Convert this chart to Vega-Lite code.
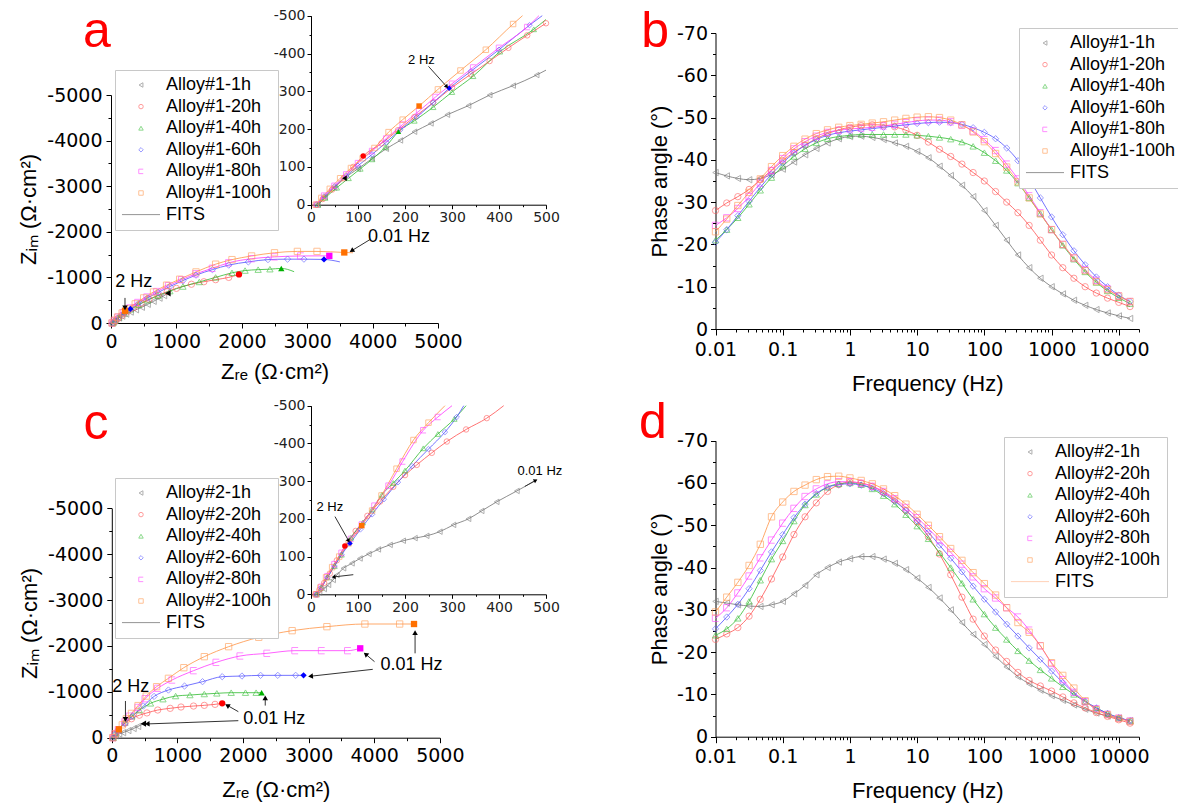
{
"$schema":"https://vega.github.io/schema/vega-lite/v6.json",
"width":1178,"height":809,"autosize":{"type":"none"},"padding":0,"background":"white",
"config":{"view":{"stroke":null},
"axis":{"grid":false,"domainColor":"black","tickColor":"black","labelColor":"black","titleColor":"black","labelFont":"DejaVu Sans","labelFontSize":19,"titleFont":"Liberation Sans","titleFontSize":22,"titleFontWeight":"normal","tickSize":5,"labelPadding":4,"labelFlush":false,"labelOverlap":false,"domainWidth":1,"tickWidth":1},
"text":{"font":"Liberation Sans"}},
"datasets":{
"na":[
{"s":"1h","x":20,"y":0},{"s":"1h","x":40,"y":-25},{"s":"1h","x":75,"y":-65},{"s":"1h","x":120,"y":-110},{"s":"1h","x":170,"y":-150},{"s":"1h","x":230,"y":-195},{"s":"1h","x":300,"y":-240},{"s":"1h","x":380,"y":-290},{"s":"1h","x":470,"y":-345},{"s":"1h","x":560,"y":-410},{"s":"1h","x":650,"y":-475},{"s":"1h","x":740,"y":-545},{"s":"1h","x":810,"y":-600},{"s":"1h","x":870,"y":-650,"k":1},
{"s":"20h","x":30,"y":0},{"s":"20h","x":60,"y":-40},{"s":"20h","x":110,"y":-100},{"s":"20h","x":170,"y":-170},{"s":"20h","x":250,"y":-250},{"s":"20h","x":350,"y":-340},{"s":"20h","x":460,"y":-430},{"s":"20h","x":580,"y":-520},{"s":"20h","x":720,"y":-610},{"s":"20h","x":860,"y":-690},{"s":"20h","x":1000,"y":-760},{"s":"20h","x":1230,"y":-850},{"s":"20h","x":1420,"y":-905},{"s":"20h","x":1600,"y":-950},{"s":"20h","x":1800,"y":-1000},{"s":"20h","x":1957,"y":-1066,"k":1},
{"s":"40h","x":30,"y":0},{"s":"40h","x":60,"y":-45},{"s":"40h","x":120,"y":-120},{"s":"40h","x":200,"y":-210},{"s":"40h","x":300,"y":-300},{"s":"40h","x":420,"y":-400},{"s":"40h","x":560,"y":-500},{"s":"40h","x":720,"y":-600},{"s":"40h","x":900,"y":-700},{"s":"40h","x":1100,"y":-800},{"s":"40h","x":1350,"y":-900},{"s":"40h","x":1600,"y":-1000},{"s":"40h","x":1850,"y":-1100},{"s":"40h","x":2050,"y":-1150},{"s":"40h","x":2250,"y":-1170},{"s":"40h","x":2430,"y":-1180},{"s":"40h","x":2604,"y":-1197,"k":1},{"s":"40h","x":2800,"y":-1125,"n":1},
{"s":"60h","x":25,"y":0},{"s":"60h","x":60,"y":-55},{"s":"60h","x":120,"y":-130},{"s":"60h","x":200,"y":-220},{"s":"60h","x":295,"y":-308,"k":1},{"s":"60h","x":420,"y":-430},{"s":"60h","x":560,"y":-550},{"s":"60h","x":720,"y":-670},{"s":"60h","x":900,"y":-800},{"s":"60h","x":1100,"y":-930},{"s":"60h","x":1300,"y":-1050},{"s":"60h","x":1550,"y":-1170},{"s":"60h","x":1800,"y":-1270},{"s":"60h","x":2100,"y":-1340},{"s":"60h","x":2400,"y":-1390},{"s":"60h","x":2700,"y":-1400},{"s":"60h","x":2950,"y":-1400},{"s":"60h","x":3257,"y":-1394,"k":1},{"s":"60h","x":3500,"y":-1340,"n":1},
{"s":"80h","x":20,"y":0},{"s":"80h","x":55,"y":-55},{"s":"80h","x":110,"y":-130},{"s":"80h","x":190,"y":-225},{"s":"80h","x":290,"y":-330},{"s":"80h","x":410,"y":-450},{"s":"80h","x":550,"y":-570},{"s":"80h","x":700,"y":-690},{"s":"80h","x":880,"y":-820},{"s":"80h","x":1080,"y":-950},{"s":"80h","x":1300,"y":-1080},{"s":"80h","x":1550,"y":-1200},{"s":"80h","x":1800,"y":-1320},{"s":"80h","x":2150,"y":-1410},{"s":"80h","x":2500,"y":-1450},{"s":"80h","x":2900,"y":-1470},{"s":"80h","x":3338,"y":-1473,"k":1},
{"s":"100h","x":15,"y":0},{"s":"100h","x":50,"y":-60},{"s":"100h","x":100,"y":-130},{"s":"100h","x":170,"y":-220},{"s":"100h","x":214,"y":-269,"k":1},{"s":"100h","x":260,"y":-310},{"s":"100h","x":370,"y":-420},{"s":"100h","x":500,"y":-550},{"s":"100h","x":650,"y":-680},{"s":"100h","x":850,"y":-830},{"s":"100h","x":1050,"y":-960},{"s":"100h","x":1300,"y":-1120},{"s":"100h","x":1600,"y":-1290},{"s":"100h","x":1850,"y":-1390},{"s":"100h","x":2150,"y":-1470},{"s":"100h","x":2500,"y":-1540},{"s":"100h","x":2850,"y":-1570},{"s":"100h","x":3150,"y":-1570},{"s":"100h","x":3567,"y":-1547,"k":1},{"s":"100h","x":3700,"y":-1540,"n":1}
],
"nai":[
{"s":"1h","x":15,"y":0},{"s":"1h","x":30,"y":-20},{"s":"1h","x":50,"y":-45},{"s":"1h","x":71,"y":-70,"k":1},{"s":"1h","x":100,"y":-95},{"s":"1h","x":130,"y":-122},{"s":"1h","x":160,"y":-148},{"s":"1h","x":190,"y":-170},{"s":"1h","x":220,"y":-193},{"s":"1h","x":255,"y":-215},{"s":"1h","x":290,"y":-238},{"s":"1h","x":335,"y":-262},{"s":"1h","x":380,"y":-290},{"s":"1h","x":430,"y":-315},{"s":"1h","x":480,"y":-343},{"s":"1h","x":500,"y":-356,"n":1},
{"s":"20h","x":12,"y":0},{"s":"20h","x":25,"y":-15},{"s":"20h","x":45,"y":-40},{"s":"20h","x":70,"y":-70},{"s":"20h","x":90,"y":-100},{"s":"20h","x":111,"y":-129,"k":1},{"s":"20h","x":150,"y":-162},{"s":"20h","x":185,"y":-197},{"s":"20h","x":220,"y":-232},{"s":"20h","x":260,"y":-270},{"s":"20h","x":300,"y":-310},{"s":"20h","x":340,"y":-345},{"s":"20h","x":380,"y":-380},{"s":"20h","x":420,"y":-415},{"s":"20h","x":460,"y":-448},{"s":"20h","x":500,"y":-480},
{"s":"40h","x":15,"y":0},{"s":"40h","x":30,"y":-18},{"s":"40h","x":55,"y":-45},{"s":"40h","x":80,"y":-70},{"s":"40h","x":105,"y":-95},{"s":"40h","x":130,"y":-120},{"s":"40h","x":158,"y":-152},{"s":"40h","x":186,"y":-193,"k":1},{"s":"40h","x":220,"y":-222},{"s":"40h","x":260,"y":-258},{"s":"40h","x":300,"y":-298},{"s":"40h","x":345,"y":-340},{"s":"40h","x":402,"y":-405},{"s":"40h","x":474,"y":-464},{"s":"40h","x":500,"y":-490,"n":1},
{"s":"60h","x":12,"y":0},{"s":"60h","x":28,"y":-22},{"s":"60h","x":50,"y":-48},{"s":"60h","x":75,"y":-76},{"s":"60h","x":100,"y":-103},{"s":"60h","x":130,"y":-133},{"s":"60h","x":160,"y":-165},{"s":"60h","x":190,"y":-198},{"s":"60h","x":225,"y":-232},{"s":"60h","x":260,"y":-270},{"s":"60h","x":294,"y":-308,"k":1},{"s":"60h","x":340,"y":-353},{"s":"60h","x":400,"y":-410},{"s":"60h","x":465,"y":-475},{"s":"60h","x":492,"y":-500,"n":1},
{"s":"80h","x":12,"y":0},{"s":"80h","x":28,"y":-24},{"s":"80h","x":50,"y":-50},{"s":"80h","x":75,"y":-80},{"s":"80h","x":100,"y":-110},{"s":"80h","x":130,"y":-142},{"s":"80h","x":160,"y":-175},{"s":"80h","x":195,"y":-212},{"s":"80h","x":230,"y":-248},{"s":"80h","x":265,"y":-285},{"s":"80h","x":300,"y":-320},{"s":"80h","x":345,"y":-363},{"s":"80h","x":400,"y":-415},{"s":"80h","x":460,"y":-470},{"s":"80h","x":485,"y":-500,"n":1},
{"s":"100h","x":10,"y":0},{"s":"100h","x":22,"y":-18},{"s":"100h","x":40,"y":-42},{"s":"100h","x":62,"y":-70},{"s":"100h","x":85,"y":-97},{"s":"100h","x":110,"y":-123},{"s":"100h","x":135,"y":-150},{"s":"100h","x":165,"y":-192},{"s":"100h","x":195,"y":-225},{"s":"100h","x":230,"y":-261,"k":1},{"s":"100h","x":270,"y":-305},{"s":"100h","x":318,"y":-355},{"s":"100h","x":372,"y":-410},{"s":"100h","x":430,"y":-478},{"s":"100h","x":450,"y":-500,"n":1}
],
"nc":[
{"s":"1h","x":20,"y":0},{"s":"1h","x":60,"y":-40},{"s":"1h","x":110,"y":-80},{"s":"1h","x":170,"y":-110},{"s":"1h","x":250,"y":-155},{"s":"1h","x":330,"y":-200},{"s":"1h","x":400,"y":-245},{"s":"1h","x":481,"y":-305,"k":1},
{"s":"20h","x":20,"y":0},{"s":"20h","x":50,"y":-80},{"s":"20h","x":100,"y":-170},{"s":"20h","x":200,"y":-316},{"s":"20h","x":300,"y":-413},{"s":"20h","x":420,"y":-490},{"s":"20h","x":535,"y":-540},{"s":"20h","x":700,"y":-603},{"s":"20h","x":890,"y":-640},{"s":"20h","x":1055,"y":-669},{"s":"20h","x":1246,"y":-690},{"s":"20h","x":1410,"y":-705},{"s":"20h","x":1574,"y":-727},{"s":"20h","x":1683,"y":-749,"k":1},
{"s":"40h","x":20,"y":0},{"s":"40h","x":50,"y":-80},{"s":"40h","x":100,"y":-170},{"s":"40h","x":200,"y":-330},{"s":"40h","x":305,"y":-465},{"s":"40h","x":420,"y":-600},{"s":"40h","x":590,"y":-749},{"s":"40h","x":780,"y":-840},{"s":"40h","x":973,"y":-908},{"s":"40h","x":1191,"y":-930},{"s":"40h","x":1410,"y":-952},{"s":"40h","x":1601,"y":-967},{"s":"40h","x":1820,"y":-981},{"s":"40h","x":2038,"y":-981},{"s":"40h","x":2200,"y":-981},{"s":"40h","x":2284,"y":-981,"k":1},
{"s":"60h","x":20,"y":0},{"s":"60h","x":50,"y":-80},{"s":"60h","x":100,"y":-165},{"s":"60h","x":200,"y":-315},{"s":"60h","x":320,"y":-475},{"s":"60h","x":481,"y":-690},{"s":"60h","x":645,"y":-900},{"s":"60h","x":863,"y":-1039},{"s":"60h","x":1109,"y":-1126},{"s":"60h","x":1383,"y":-1221},{"s":"60h","x":1683,"y":-1330},{"s":"60h","x":1984,"y":-1344},{"s":"60h","x":2268,"y":-1359},{"s":"60h","x":2530,"y":-1359},{"s":"60h","x":2803,"y":-1359},{"s":"60h","x":2923,"y":-1359,"k":1},
{"s":"80h","x":20,"y":0},{"s":"80h","x":50,"y":-85},{"s":"80h","x":100,"y":-175},{"s":"80h","x":200,"y":-345},{"s":"80h","x":270,"y":-470},{"s":"80h","x":400,"y":-660},{"s":"80h","x":508,"y":-850},{"s":"80h","x":700,"y":-1076},{"s":"80h","x":918,"y":-1257},{"s":"80h","x":1246,"y":-1461},{"s":"80h","x":1590,"y":-1642},{"s":"80h","x":1956,"y":-1781},{"s":"80h","x":2366,"y":-1839},{"s":"80h","x":2792,"y":-1897},{"s":"80h","x":3197,"y":-1897},{"s":"80h","x":3596,"y":-1897},{"s":"80h","x":3787,"y":-1948,"k":1},
{"s":"100h","x":15,"y":0},{"s":"100h","x":50,"y":-85},{"s":"100h","x":108,"y":-183,"k":1},{"s":"100h","x":160,"y":-280},{"s":"100h","x":220,"y":-410},{"s":"100h","x":300,"y":-530},{"s":"100h","x":400,"y":-700},{"s":"100h","x":525,"y":-908},{"s":"100h","x":683,"y":-1112},{"s":"100h","x":863,"y":-1294},{"s":"100h","x":1098,"y":-1526},{"s":"100h","x":1410,"y":-1766},{"s":"100h","x":1781,"y":-1984},{"s":"100h","x":2240,"y":-2188},{"s":"100h","x":2749,"y":-2333},{"s":"100h","x":3279,"y":-2420},{"s":"100h","x":3858,"y":-2478},{"s":"100h","x":4388,"y":-2478},{"s":"100h","x":4607,"y":-2478,"k":1}
],
"nci":[
{"s":"1h","x":9,"y":0},{"s":"1h","x":18,"y":-5},{"s":"1h","x":28,"y":-14},{"s":"1h","x":37,"y":-25},{"s":"1h","x":47,"y":-38},{"s":"1h","x":55,"y":-51},{"s":"1h","x":69,"y":-69},{"s":"1h","x":87,"y":-82},{"s":"1h","x":104,"y":-95},{"s":"1h","x":123,"y":-107},{"s":"1h","x":143,"y":-119},{"s":"1h","x":168,"y":-131},{"s":"1h","x":196,"y":-142},{"s":"1h","x":221,"y":-149},{"s":"1h","x":246,"y":-155},{"s":"1h","x":274,"y":-166},{"s":"1h","x":303,"y":-184},{"s":"1h","x":335,"y":-200},{"s":"1h","x":363,"y":-221},{"s":"1h","x":395,"y":-245},{"s":"1h","x":438,"y":-274},{"s":"1h","x":480,"y":-303,"n":1},
{"s":"20h","x":10,"y":0},{"s":"20h","x":18,"y":-12},{"s":"20h","x":28,"y":-30},{"s":"20h","x":40,"y":-55},{"s":"20h","x":55,"y":-90},{"s":"20h","x":72,"y":-128,"k":1},{"s":"20h","x":95,"y":-168},{"s":"20h","x":120,"y":-208},{"s":"20h","x":147,"y":-246},{"s":"20h","x":175,"y":-285},{"s":"20h","x":200,"y":-316},{"s":"20h","x":225,"y":-343},{"s":"20h","x":257,"y":-375},{"s":"20h","x":289,"y":-405},{"s":"20h","x":330,"y":-437},{"s":"20h","x":374,"y":-467},{"s":"20h","x":410,"y":-500,"n":1},
{"s":"40h","x":12,"y":0},{"s":"40h","x":22,"y":-18},{"s":"40h","x":35,"y":-45},{"s":"40h","x":50,"y":-75},{"s":"40h","x":65,"y":-105},{"s":"40h","x":85,"y":-150},{"s":"40h","x":110,"y":-190},{"s":"40h","x":130,"y":-225},{"s":"40h","x":151,"y":-264},{"s":"40h","x":175,"y":-295},{"s":"40h","x":200,"y":-328},{"s":"40h","x":239,"y":-387},{"s":"40h","x":270,"y":-425},{"s":"40h","x":305,"y":-465},{"s":"40h","x":330,"y":-500,"n":1},
{"s":"60h","x":12,"y":0},{"s":"60h","x":22,"y":-18},{"s":"60h","x":35,"y":-45},{"s":"60h","x":50,"y":-75},{"s":"60h","x":65,"y":-105},{"s":"60h","x":83,"y":-135,"k":1},{"s":"60h","x":105,"y":-172},{"s":"60h","x":130,"y":-212},{"s":"60h","x":155,"y":-252},{"s":"60h","x":185,"y":-297},{"s":"60h","x":215,"y":-340},{"s":"60h","x":250,"y":-385},{"s":"60h","x":285,"y":-430},{"s":"60h","x":310,"y":-470},{"s":"60h","x":325,"y":-500,"n":1},
{"s":"80h","x":12,"y":0},{"s":"80h","x":22,"y":-20},{"s":"80h","x":35,"y":-48},{"s":"80h","x":50,"y":-80},{"s":"80h","x":65,"y":-110},{"s":"80h","x":85,"y":-147},{"s":"80h","x":108,"y":-185},{"s":"80h","x":135,"y":-235},{"s":"80h","x":165,"y":-288},{"s":"80h","x":195,"y":-352},{"s":"80h","x":239,"y":-435},{"s":"80h","x":270,"y":-470},{"s":"80h","x":300,"y":-500,"n":1},
{"s":"100h","x":10,"y":0},{"s":"100h","x":20,"y":-18},{"s":"100h","x":32,"y":-45},{"s":"100h","x":45,"y":-72},{"s":"100h","x":60,"y":-100},{"s":"100h","x":80,"y":-135},{"s":"100h","x":108,"y":-182,"k":1},{"s":"100h","x":130,"y":-222},{"s":"100h","x":150,"y":-262},{"s":"100h","x":182,"y":-333},{"s":"100h","x":218,"y":-409},{"s":"100h","x":250,"y":-455},{"s":"100h","x":285,"y":-500,"n":1}
],
"pb":[
{"f":0.01,"1h":-37,"20h":-28,"40h":-21,"60h":-20.5,"80h":-24.5,"100h":-23},
{"f":0.0147,"1h":-36.2,"20h":-29.8,"40h":-23.5,"60h":-23.5,"80h":-26.3,"100h":-26},
{"f":0.0215,"1h":-35.6,"20h":-31.3,"40h":-26.3,"60h":-26.8,"80h":-28.5,"100h":-29.2},
{"f":0.0316,"1h":-35.3,"20h":-33,"40h":-29.5,"60h":-30.2,"80h":-31.3,"100h":-32.3},
{"f":0.0464,"1h":-35.6,"20h":-35.3,"40h":-32.8,"60h":-33.5,"80h":-34.5,"100h":-35.5},
{"f":0.0681,"1h":-36.5,"20h":-37.5,"40h":-35.8,"60h":-36.6,"80h":-37.5,"100h":-38.4},
{"f":0.1,"1h":-37.8,"20h":-39.8,"40h":-38.5,"60h":-39.3,"80h":-40.3,"100h":-41},
{"f":0.147,"1h":-39.5,"20h":-41.8,"40h":-40.8,"60h":-41.6,"80h":-42.6,"100h":-43.2},
{"f":0.215,"1h":-41.2,"20h":-43.5,"40h":-42.6,"60h":-43.4,"80h":-44.3,"100h":-44.9},
{"f":0.316,"1h":-42.7,"20h":-45,"40h":-44,"60h":-44.8,"80h":-45.6,"100h":-46.2},
{"f":0.464,"1h":-44,"20h":-46.2,"40h":-45,"60h":-45.8,"80h":-46.5,"100h":-47.1},
{"f":0.681,"1h":-45,"20h":-47.1,"40h":-45.5,"60h":-46.4,"80h":-47,"100h":-47.7},
{"f":1,"1h":-45.5,"20h":-47.7,"40h":-45.8,"60h":-46.8,"80h":-47.3,"100h":-48.1},
{"f":1.47,"1h":-45.6,"20h":-48.1,"40h":-46,"60h":-47.1,"80h":-47.5,"100h":-48.4},
{"f":2.15,"1h":-45.3,"20h":-48.3,"40h":-46,"60h":-47.4,"80h":-47.7,"100h":-48.7},
{"f":3.16,"1h":-44.8,"20h":-48.2,"40h":-46,"60h":-47.7,"80h":-48,"100h":-49},
{"f":4.64,"1h":-44,"20h":-47.8,"40h":-46,"60h":-48,"80h":-48.4,"100h":-49.4},
{"f":6.81,"1h":-43.2,"20h":-47,"40h":-46,"60h":-48.3,"80h":-48.8,"100h":-49.8},
{"f":10,"1h":-42,"20h":-45.8,"40h":-45.8,"60h":-48.6,"80h":-49.2,"100h":-50.1},
{"f":14.7,"1h":-40.5,"20h":-44.2,"40h":-45.6,"60h":-48.8,"80h":-49.4,"100h":-50.2},
{"f":21.5,"1h":-38.5,"20h":-42.5,"40h":-45.3,"60h":-48.9,"80h":-49.4,"100h":-50},
{"f":31.6,"1h":-36.3,"20h":-40.8,"40h":-44.9,"60h":-48.8,"80h":-49,"100h":-49.4},
{"f":46.4,"1h":-34,"20h":-39,"40h":-44.2,"60h":-48.4,"80h":-48.2,"100h":-48.3},
{"f":68.1,"1h":-31.3,"20h":-37,"40h":-43.2,"60h":-47.6,"80h":-46.8,"100h":-46.6},
{"f":100,"1h":-28,"20h":-35,"40h":-41.7,"60h":-46.5,"80h":-44.8,"100h":-44.3},
{"f":147,"1h":-24.5,"20h":-32.5,"40h":-39.8,"60h":-45,"80h":-42.2,"100h":-41.5},
{"f":215,"1h":-21,"20h":-30,"40h":-37.5,"60h":-42.8,"80h":-39,"100h":-38.3},
{"f":316,"1h":-17.5,"20h":-27.5,"40h":-34.5,"60h":-39.8,"80h":-35.5,"100h":-34.8},
{"f":464,"1h":-14.5,"20h":-24.5,"40h":-31,"60h":-35.5,"80h":-31.5,"100h":-31},
{"f":681,"1h":-12,"20h":-21,"40h":-27.3,"60h":-31,"80h":-27.5,"100h":-27.2},
{"f":1000,"1h":-10,"20h":-17.5,"40h":-23.5,"60h":-26.5,"80h":-23.5,"100h":-23.5},
{"f":1470,"1h":-8.3,"20h":-14.5,"40h":-19.8,"60h":-22.3,"80h":-20,"100h":-20},
{"f":2150,"1h":-6.8,"20h":-12,"40h":-16.5,"60h":-18.5,"80h":-16.8,"100h":-16.8},
{"f":3160,"1h":-5.6,"20h":-10,"40h":-13.5,"60h":-15.2,"80h":-14,"100h":-13.8},
{"f":4640,"1h":-4.6,"20h":-8.5,"40h":-11,"60h":-12.3,"80h":-11.5,"100h":-11.2},
{"f":6810,"1h":-3.8,"20h":-7.3,"40h":-9,"60h":-10,"80h":-9.5,"100h":-9.3},
{"f":10000,"1h":-3.1,"20h":-6.3,"40h":-7.4,"60h":-8,"80h":-7.8,"100h":-7.8},
{"f":14700,"1h":-2.5,"20h":-5.3,"40h":-6,"60h":-6.5,"80h":-6.5,"100h":-6.5}
],
"pd":[
{"f":0.01,"1h":-32,"20h":-23,"40h":-24,"60h":-25.5,"80h":-28,"100h":-29.5},
{"f":0.0147,"1h":-31.6,"20h":-24.3,"40h":-25.5,"60h":-28.3,"80h":-30.5,"100h":-33},
{"f":0.0215,"1h":-31.2,"20h":-25.8,"40h":-28,"60h":-31.3,"80h":-34,"100h":-36.5},
{"f":0.0316,"1h":-30.9,"20h":-28.5,"40h":-32,"60h":-35,"80h":-38,"100h":-40.5},
{"f":0.0464,"1h":-30.8,"20h":-32.5,"40h":-37,"60h":-39.3,"80h":-42.3,"100h":-45.5},
{"f":0.0681,"1h":-31.2,"20h":-37.3,"40h":-42,"60h":-43.7,"80h":-46.5,"100h":-52},
{"f":0.1,"1h":-32,"20h":-42.5,"40h":-46.3,"60h":-47.8,"80h":-50.5,"100h":-55.5},
{"f":0.147,"1h":-33.8,"20h":-47.8,"40h":-51,"60h":-51.8,"80h":-54,"100h":-58},
{"f":0.215,"1h":-35.8,"20h":-52,"40h":-54.8,"60h":-55,"80h":-56.8,"100h":-59.5},
{"f":0.316,"1h":-38.3,"20h":-55.3,"40h":-57.3,"60h":-57.5,"80h":-58.6,"100h":-60.8},
{"f":0.464,"1h":-40,"20h":-58,"40h":-59,"60h":-59,"80h":-59.8,"100h":-61.5},
{"f":0.681,"1h":-41.3,"20h":-59.6,"40h":-59.8,"60h":-59.6,"80h":-60.3,"100h":-61.6},
{"f":1,"1h":-42.1,"20h":-60.2,"40h":-60,"60h":-59.8,"80h":-60.3,"100h":-61.2},
{"f":1.47,"1h":-42.6,"20h":-60,"40h":-59.6,"60h":-59.5,"80h":-59.9,"100h":-60.6},
{"f":2.15,"1h":-42.6,"20h":-59.2,"40h":-58.6,"60h":-58.8,"80h":-59.2,"100h":-59.8},
{"f":3.16,"1h":-42,"20h":-57.8,"40h":-57,"60h":-57.5,"80h":-58,"100h":-58.6},
{"f":4.64,"1h":-41,"20h":-56,"40h":-55,"60h":-55.7,"80h":-56.3,"100h":-57},
{"f":6.81,"1h":-39.5,"20h":-53.5,"40h":-52.5,"60h":-53.5,"80h":-54.2,"100h":-55},
{"f":10,"1h":-37.5,"20h":-50.8,"40h":-49.8,"60h":-51,"80h":-51.8,"100h":-52.6},
{"f":14.7,"1h":-35.3,"20h":-47.3,"40h":-46.8,"60h":-48.3,"80h":-49.2,"100h":-50},
{"f":21.5,"1h":-32.8,"20h":-43.2,"40h":-43.5,"60h":-45.3,"80h":-46.5,"100h":-47.3},
{"f":31.6,"1h":-30,"20h":-38.3,"40h":-40,"60h":-42.2,"80h":-43.6,"100h":-44.5},
{"f":46.4,"1h":-27,"20h":-33,"40h":-36.3,"60h":-39,"80h":-40.8,"100h":-41.7},
{"f":68.1,"1h":-24.2,"20h":-27.8,"40h":-32.5,"60h":-35.6,"80h":-37.8,"100h":-38.8},
{"f":100,"1h":-21.8,"20h":-23.8,"40h":-29,"60h":-32.5,"80h":-35,"100h":-36.2},
{"f":147,"1h":-19,"20h":-20.5,"40h":-25.8,"60h":-29.5,"80h":-32.8,"100h":-33.5},
{"f":215,"1h":-16.5,"20h":-17.8,"40h":-23,"60h":-26.6,"80h":-30.5,"100h":-30.5},
{"f":316,"1h":-14.2,"20h":-15.2,"40h":-20.3,"60h":-23.8,"80h":-28.3,"100h":-27},
{"f":464,"1h":-12.5,"20h":-13.3,"40h":-18,"60h":-21,"80h":-25.2,"100h":-24.7},
{"f":681,"1h":-11,"20h":-12,"40h":-15.8,"60h":-18.3,"80h":-21.5,"100h":-21.5},
{"f":1000,"1h":-9.7,"20h":-10.8,"40h":-13.8,"60h":-15.5,"80h":-17.3,"100h":-17.5},
{"f":1470,"1h":-8.6,"20h":-9.4,"40h":-11.8,"60h":-12.8,"80h":-13.5,"100h":-14.5},
{"f":2150,"1h":-7.5,"20h":-8,"40h":-10,"60h":-10.4,"80h":-10.5,"100h":-11.5},
{"f":3160,"1h":-6.5,"20h":-6.8,"40h":-8.3,"60h":-8.4,"80h":-8.3,"100h":-8.5},
{"f":4640,"1h":-5.6,"20h":-5.7,"40h":-6.8,"60h":-6.8,"80h":-6.6,"100h":-6.4},
{"f":6810,"1h":-4.9,"20h":-4.8,"40h":-5.5,"60h":-5.5,"80h":-5.3,"100h":-5.2},
{"f":10000,"1h":-4.4,"20h":-4,"40h":-4.5,"60h":-4.5,"80h":-4.4,"100h":-4.3},
{"f":14700,"1h":-3.8,"20h":-3.2,"40h":-3.7,"60h":-3.8,"80h":-3.7,"100h":-3.6}
],
"arA":[{"id":1,"x":214,"y":-330,"x2":214,"y2":-550},{"id":2,"x":3680,"y":-1585,"x2":3960,"y2":-1830}],
"arAi":[{"id":1,"x":289,"y":-312,"x2":250,"y2":-366}],
"arC":[{"id":1,"x":208,"y":-400,"x2":208,"y2":-800},{"id":2,"x":1760,"y":-705,"x2":1929,"y2":-567},{"id":3,"x":540,"y":-300,"x2":1929,"y2":-371},{"id":4,"x":2339,"y":-870,"x2":2339,"y2":-700},{"id":5,"x":3030,"y":-1340,"x2":3978,"y2":-1490},{"id":6,"x":3870,"y":-1820,"x2":4005,"y2":-1657},{"id":7,"x":4623,"y":-2290,"x2":4623,"y2":-1839}],
"arCi":[{"id":1,"x":80,"y":-142,"x2":51,"y2":-206},{"id":2,"x":478,"y":-302,"x2":455,"y2":-286},{"id":3,"x":48,"y":-46,"x2":90,"y2":-52}],
"tA":[{"x":347,"y":-906,"t":"2 Hz"},{"x":4404,"y":-1893,"t":"0.01 Hz"}],
"tAi":[{"x":235,"y":-384,"t":"2 Hz"}],
"tC":[{"x":290,"y":-1097,"t":"2 Hz"},{"x":2475,"y":-400,"t":"0.01 Hz"},{"x":4568,"y":-1584,"t":"0.01 Hz"}],
"tCi":[{"x":40,"y":-231,"t":"2 Hz"},{"x":487,"y":-327,"t":"0.01 Hz"}]
},
"layer":[
{"data":{"name":"na"},
"encoding":{"x":{"field":"x","type":"quantitative","scale":{"domain":[0,5000],"range":[111,438],"nice":false,"zero":false},"axis":{"orient":"bottom","offset":-486,"values":[0,1000,2000,3000,4000,5000],"labelExpr":"''+datum.value","title":"Zᵣₑ (Ω·cm²)","titlePadding":10,"labelPadding":4}},
"y":{"field":"y","type":"quantitative","scale":{"domain":[-5000,0],"range":[95,323],"nice":false,"zero":false},"axis":{"orient":"left","offset":-111,"values":[0,-1000,-2000,-3000,-4000,-5000],"labelExpr":"''+datum.value","title":"Zᵢₘ (Ω·cm²)","titlePadding":6,"labelPadding":4}}},
"layer":[
{"mark":{"type":"line","interpolate":"monotone","strokeWidth":1,"opacity":0.85},"encoding":{"stroke":{"field":"s","type":"nominal","scale":{"domain":["1h","20h","40h","60h","80h","100h"],"range":["#7a7a7a","#ff5a5a","#3cc03c","#5a5aff","#ff45ff","#ff9a50"]},"legend":null}}},
{"transform":[{"filter":"!datum.k && !datum.n"}],"mark":{"type":"point","filled":false,"size":40,"opacity":0.6,"strokeWidth":1},"encoding":{
"color":{"field":"s","type":"nominal","scale":{"domain":["1h","20h","40h","60h","80h","100h","FITS"],"range":["#7a7a7a","#ff5a5a","#3cc03c","#5a5aff","#ff45ff","#ff9a50","#505050"]},"legend":{"orient":"none","legendX":115,"legendY":70,"title":null,"columns":1,"padding":6,"symbolSize":20,"symbolOffset":11,"labelOffset":16,"labelFont":"Liberation Sans","labelFontSize":18,"labelColor":"black","strokeColor":"#c8c8c8","fillColor":"white","rowPadding":3.6,"symbolStrokeWidth":1,"labelExpr":"datum.label == 'FITS' ? 'FITS' : 'Alloy#1-' + datum.label"}},
"shape":{"field":"s","type":"nominal","scale":{"domain":["1h","20h","40h","60h","80h","100h","FITS"],"range":["triangle-left","circle","triangle-up","diamond","M 1 -1 L -1 -1 L -1 1 L 1 1","square","M -8.5 0 L 8.5 0"]},"legend":{"orient":"none","legendX":115,"legendY":70,"title":null,"columns":1,"padding":6,"symbolSize":20,"symbolOffset":11,"labelOffset":16,"labelFont":"Liberation Sans","labelFontSize":18,"labelColor":"black","strokeColor":"#c8c8c8","fillColor":"white","rowPadding":3.6,"symbolStrokeWidth":1,"labelExpr":"datum.label == 'FITS' ? 'FITS' : 'Alloy#1-' + datum.label"}}}},
{"transform":[{"filter":"datum.k"}],"mark":{"type":"point","filled":true,"size":40,"opacity":1},"encoding":{"fill":{"field":"s","type":"nominal","scale":{"domain":["1h","20h","40h","60h","80h","100h"],"range":["#000000","#ff0000","#00b000","#0000ff","#ff00ff","#ff7000"]},"legend":null},"shape":{"field":"s","type":"nominal","scale":{"domain":["1h","20h","40h","60h","80h","100h","FITS"],"range":["triangle-left","circle","triangle-up","diamond","M 1 -1 L -1 -1 L -1 1 L 1 1","square","M -8.5 0 L 8.5 0"]}}}},
{"data":{"name":"arA"},"mark":{"type":"rule","color":"#333333","strokeWidth":1},"encoding":{"x2":{"field":"x2"},"y2":{"field":"y2"}}},
{"data":{"name":"arA"},"transform":[{"filter":"datum.id==1"}],"mark":{"type":"point","shape":"triangle-right","filled":true,"color":"black","size":30,"angle":90,"opacity":1},"encoding":{}},
{"data":{"name":"arA"},"transform":[{"filter":"datum.id==2"}],"mark":{"type":"point","shape":"triangle-right","filled":true,"color":"black","size":30,"angle":148,"opacity":1},"encoding":{}},
{"data":{"name":"tA"},"mark":{"type":"text","fontSize":18,"align":"center","baseline":"middle","color":"black"},"encoding":{"text":{"field":"t"}}},
{"data":{"values":[{"x":-214,"y":-6053,"t":"a"}]},"mark":{"type":"text","fontSize":50,"align":"center","baseline":"alphabetic","color":"#ff0000"},"encoding":{"text":{"field":"t"}}}
]},
{"data":{"values":[{"x":0,"y":0}]},"mark":{"type":"point","opacity":0},
"encoding":{"x":{"field":"x","type":"quantitative","scale":{"domain":[0,5000],"range":[111,438],"nice":false,"zero":false},"axis":{"orient":"bottom","offset":-486,"values":[500,1500,2500,3500,4500],"labels":false,"domain":false,"tickSize":3,"title":null}},
"y":{"field":"y","type":"quantitative","scale":{"domain":[-5000,0],"range":[95,323],"nice":false,"zero":false},"axis":{"orient":"left","offset":-111,"values":[-500,-1500,-2500,-3500,-4500],"labels":false,"domain":false,"tickSize":3,"title":null}}}},
{"data":{"name":"nai"},
"encoding":{"x":{"field":"x","type":"quantitative","scale":{"domain":[0,500],"range":[311,546],"nice":false,"zero":false},"axis":{"orient":"bottom","offset":-604.3,"values":[0,100,200,300,400,500],"labelExpr":"''+datum.value","title":null,"labelFontSize":14,"tickSize":4,"labelPadding":2,"labelColor":"#222222"}},
"y":{"field":"y","type":"quantitative","scale":{"domain":[-500,0],"range":[15.7,204.7],"nice":false,"zero":false},"axis":{"orient":"left","offset":-311,"values":[0,-100,-200,-300,-400,-500],"labelExpr":"''+datum.value","title":null,"labelFontSize":14,"tickSize":4,"labelPadding":2,"labelColor":"#222222"}}},
"layer":[
{"mark":{"type":"line","interpolate":"monotone","strokeWidth":1,"opacity":0.85},"encoding":{"stroke":{"field":"s","type":"nominal","scale":{"domain":["1h","20h","40h","60h","80h","100h"],"range":["#7a7a7a","#ff5a5a","#3cc03c","#5a5aff","#ff45ff","#ff9a50"]},"legend":null}}},
{"transform":[{"filter":"!datum.k && !datum.n"}],"mark":{"type":"point","filled":false,"size":30,"opacity":0.6,"strokeWidth":1},"encoding":{
"color":{"field":"s","type":"nominal","scale":{"domain":["1h","20h","40h","60h","80h","100h","FITS"],"range":["#7a7a7a","#ff5a5a","#3cc03c","#5a5aff","#ff45ff","#ff9a50","#505050"]},"legend":null},
"shape":{"field":"s","type":"nominal","scale":{"domain":["1h","20h","40h","60h","80h","100h","FITS"],"range":["triangle-left","circle","triangle-up","diamond","M 1 -1 L -1 -1 L -1 1 L 1 1","square","M -8.5 0 L 8.5 0"]},"legend":null}}},
{"transform":[{"filter":"datum.k"}],"mark":{"type":"point","filled":true,"size":30,"opacity":1},"encoding":{"fill":{"field":"s","type":"nominal","scale":{"domain":["1h","20h","40h","60h","80h","100h"],"range":["#000000","#ff0000","#00b000","#0000ff","#ff00ff","#ff7000"]},"legend":null},"shape":{"field":"s","type":"nominal","scale":{"domain":["1h","20h","40h","60h","80h","100h","FITS"],"range":["triangle-left","circle","triangle-up","diamond","M 1 -1 L -1 -1 L -1 1 L 1 1","square","M -8.5 0 L 8.5 0"]},"legend":null}}},
{"data":{"name":"arAi"},"mark":{"type":"rule","color":"#333333","strokeWidth":1},"encoding":{"x2":{"field":"x2"},"y2":{"field":"y2"}}},
{"data":{"name":"arAi"},"mark":{"type":"point","shape":"triangle-right","filled":true,"color":"black","size":20,"angle":49,"opacity":1},"encoding":{}},
{"data":{"name":"tAi"},"mark":{"type":"text","fontSize":13,"align":"center","baseline":"middle","color":"black"},"encoding":{"text":{"field":"t"}}}
]},
{"data":{"values":[{"x":0,"y":0}]},"mark":{"type":"point","opacity":0},
"encoding":{"x":{"field":"x","type":"quantitative","scale":{"domain":[0,500],"range":[311,546],"nice":false,"zero":false},"axis":{"orient":"bottom","offset":-604.3,"values":[50,150,250,350,450],"labels":false,"domain":false,"tickSize":2,"title":null}},
"y":{"field":"y","type":"quantitative","scale":{"domain":[-500,0],"range":[15.7,204.7],"nice":false,"zero":false},"axis":{"orient":"left","offset":-311,"values":[-50,-150,-250,-350,-450],"labels":false,"domain":false,"tickSize":2,"title":null}}}},
{"data":{"name":"pb"},
"encoding":{"x":{"field":"f","type":"quantitative","scale":{"type":"log","domain":[0.01,20000],"range":[715.5,1139],"nice":false,"zero":false},"axis":{"orient":"bottom","offset":-480,"values":[0.01,0.1,1,10,100,1000,10000],"labelExpr":"''+datum.value","title":"Frequency (Hz)","titlePadding":14,"labelPadding":5,"tickSize":6}},
"y":{"field":"p","type":"quantitative","scale":{"domain":[-70,0],"range":[33,329],"nice":false,"zero":false},"axis":{"orient":"left","offset":-715.5,"values":[0,-10,-20,-30,-40,-50,-60,-70],"labelExpr":"''+datum.value","title":"Phase angle (°)","titlePadding":5,"labelPadding":3}}},
"layer":[
{"transform":[{"fold":["1h","20h","40h","60h","80h","100h"],"as":["s","p"]}],"mark":{"type":"line","interpolate":"monotone","strokeWidth":1,"opacity":0.85},"encoding":{"stroke":{"field":"s","type":"nominal","scale":{"domain":["1h","20h","40h","60h","80h","100h"],"range":["#7a7a7a","#ff5a5a","#3cc03c","#5a5aff","#ff45ff","#ff9a50"]},"legend":null}}},
{"transform":[{"fold":["1h","20h","40h","60h","80h","100h"],"as":["s","p"]}],"mark":{"type":"point","filled":false,"size":40,"opacity":0.6,"strokeWidth":1},"encoding":{
"color":{"field":"s","type":"nominal","scale":{"domain":["1h","20h","40h","60h","80h","100h","FITS"],"range":["#7a7a7a","#ff5a5a","#3cc03c","#5a5aff","#ff45ff","#ff9a50","#505050"]},"legend":{"orient":"none","legendX":1019,"legendY":28,"title":null,"columns":1,"padding":6,"symbolSize":20,"symbolOffset":11,"labelOffset":16,"labelFont":"Liberation Sans","labelFontSize":18,"labelColor":"black","strokeColor":"#c8c8c8","fillColor":"white","rowPadding":3.6,"symbolStrokeWidth":1,"labelExpr":"datum.label == 'FITS' ? 'FITS' : 'Alloy#1-' + datum.label"}},
"shape":{"field":"s","type":"nominal","scale":{"domain":["1h","20h","40h","60h","80h","100h","FITS"],"range":["triangle-left","circle","triangle-up","diamond","M 1 -1 L -1 -1 L -1 1 L 1 1","square","M -8.5 0 L 8.5 0"]},"legend":{"orient":"none","legendX":1019,"legendY":28,"title":null,"columns":1,"padding":6,"symbolSize":20,"symbolOffset":11,"labelOffset":16,"labelFont":"Liberation Sans","labelFontSize":18,"labelColor":"black","strokeColor":"#c8c8c8","fillColor":"white","rowPadding":3.6,"symbolStrokeWidth":1,"labelExpr":"datum.label == 'FITS' ? 'FITS' : 'Alloy#1-' + datum.label"}}}},
{"data":{"values":[{"f":0.00126,"p":-66.7,"t":"b"}]},"mark":{"type":"text","fontSize":50,"align":"center","baseline":"alphabetic","color":"#ff0000"},"encoding":{"text":{"field":"t"}}}
]},
{"data":{"values":[{"x":1,"y":0}]},"mark":{"type":"point","opacity":0},
"encoding":{"x":{"field":"x","type":"quantitative","scale":{"type":"log","domain":[0.01,20000],"range":[715.5,1139],"nice":false,"zero":false},"axis":{"orient":"bottom","offset":-480,"values":[0.02,0.03,0.04,0.05,0.06,0.07,0.08,0.09,0.2,0.3,0.4,0.5,0.6,0.7,0.8,0.9,2,3,4,5,6,7,8,9,20,30,40,50,60,70,80,90,200,300,400,500,600,700,800,900,2000,3000,4000,5000,6000,7000,8000,9000,20000],"labels":false,"domain":false,"tickSize":3,"title":null}},
"y":{"field":"y","type":"quantitative","scale":{"domain":[-70,0],"range":[33,329],"nice":false,"zero":false},"axis":{"orient":"left","offset":-715.5,"values":[-5,-15,-25,-35,-45,-55,-65],"labels":false,"domain":false,"tickSize":3,"title":null}}}},
{"data":{"name":"nc"},
"encoding":{"x":{"field":"x","type":"quantitative","scale":{"domain":[0,5000],"range":[111.8,439.8],"nice":false,"zero":false},"axis":{"orient":"bottom","offset":-71.3,"values":[0,1000,2000,3000,4000,5000],"labelExpr":"''+datum.value","title":"Zᵣₑ (Ω·cm²)","titlePadding":14,"labelPadding":4}},
"y":{"field":"y","type":"quantitative","scale":{"domain":[-5000,0],"range":[508.3,737.7],"nice":false,"zero":false},"axis":{"orient":"left","offset":-111.8,"values":[0,-1000,-2000,-3000,-4000,-5000],"labelExpr":"''+datum.value","title":"Zᵢₘ (Ω·cm²)","titlePadding":6,"labelPadding":4}}},
"layer":[
{"mark":{"type":"line","interpolate":"monotone","strokeWidth":1,"opacity":0.85},"encoding":{"stroke":{"field":"s","type":"nominal","scale":{"domain":["1h","20h","40h","60h","80h","100h"],"range":["#7a7a7a","#ff5a5a","#3cc03c","#5a5aff","#ff45ff","#ff9a50"]},"legend":null}}},
{"transform":[{"filter":"!datum.k && !datum.n"}],"mark":{"type":"point","filled":false,"size":40,"opacity":0.6,"strokeWidth":1},"encoding":{
"color":{"field":"s","type":"nominal","scale":{"domain":["1h","20h","40h","60h","80h","100h","FITS"],"range":["#7a7a7a","#ff5a5a","#3cc03c","#5a5aff","#ff45ff","#ff9a50","#505050"]},"legend":{"orient":"none","legendX":115,"legendY":478,"title":null,"columns":1,"padding":6,"symbolSize":20,"symbolOffset":11,"labelOffset":16,"labelFont":"Liberation Sans","labelFontSize":18,"labelColor":"black","strokeColor":"#c8c8c8","fillColor":"white","rowPadding":3.6,"symbolStrokeWidth":1,"labelExpr":"datum.label == 'FITS' ? 'FITS' : 'Alloy#2-' + datum.label"}},
"shape":{"field":"s","type":"nominal","scale":{"domain":["1h","20h","40h","60h","80h","100h","FITS"],"range":["triangle-left","circle","triangle-up","diamond","M 1 -1 L -1 -1 L -1 1 L 1 1","square","M -8.5 0 L 8.5 0"]},"legend":{"orient":"none","legendX":115,"legendY":478,"title":null,"columns":1,"padding":6,"symbolSize":20,"symbolOffset":11,"labelOffset":16,"labelFont":"Liberation Sans","labelFontSize":18,"labelColor":"black","strokeColor":"#c8c8c8","fillColor":"white","rowPadding":3.6,"symbolStrokeWidth":1,"labelExpr":"datum.label == 'FITS' ? 'FITS' : 'Alloy#2-' + datum.label"}}}},
{"transform":[{"filter":"datum.k"}],"mark":{"type":"point","filled":true,"size":40,"opacity":1},"encoding":{"fill":{"field":"s","type":"nominal","scale":{"domain":["1h","20h","40h","60h","80h","100h"],"range":["#000000","#ff0000","#00b000","#0000ff","#ff00ff","#ff7000"]},"legend":null},"shape":{"field":"s","type":"nominal","scale":{"domain":["1h","20h","40h","60h","80h","100h","FITS"],"range":["triangle-left","circle","triangle-up","diamond","M 1 -1 L -1 -1 L -1 1 L 1 1","square","M -8.5 0 L 8.5 0"]}}}},
{"data":{"name":"arC"},"mark":{"type":"rule","color":"#333333","strokeWidth":1},"encoding":{"x2":{"field":"x2"},"y2":{"field":"y2"}}},
{"data":{"name":"arC"},"transform":[{"filter":"datum.id==1"}],"mark":{"type":"point","shape":"triangle-right","filled":true,"color":"black","size":30,"angle":90,"opacity":1},"encoding":{}},
{"data":{"name":"arC"},"transform":[{"filter":"datum.id==2"}],"mark":{"type":"point","shape":"triangle-right","filled":true,"color":"black","size":30,"angle":210,"opacity":1},"encoding":{}},
{"data":{"name":"arC"},"transform":[{"filter":"datum.id==3"}],"mark":{"type":"point","shape":"triangle-right","filled":true,"color":"black","size":30,"angle":178,"opacity":1},"encoding":{}},
{"data":{"name":"arC"},"transform":[{"filter":"datum.id==4 || datum.id==7"}],"mark":{"type":"point","shape":"triangle-right","filled":true,"color":"black","size":30,"angle":270,"opacity":1},"encoding":{}},
{"data":{"name":"arC"},"transform":[{"filter":"datum.id==5"}],"mark":{"type":"point","shape":"triangle-right","filled":true,"color":"black","size":30,"angle":174,"opacity":1},"encoding":{}},
{"data":{"name":"arC"},"transform":[{"filter":"datum.id==6"}],"mark":{"type":"point","shape":"triangle-right","filled":true,"color":"black","size":30,"angle":220,"opacity":1},"encoding":{}},
{"data":{"name":"tC"},"mark":{"type":"text","fontSize":18,"align":"center","baseline":"middle","color":"black"},"encoding":{"text":{"field":"t"}}},
{"data":{"values":[{"x":-241,"y":-6510,"t":"c"}]},"mark":{"type":"text","fontSize":50,"align":"center","baseline":"alphabetic","color":"#ff0000"},"encoding":{"text":{"field":"t"}}}
]},
{"data":{"values":[{"x":0,"y":0}]},"mark":{"type":"point","opacity":0},
"encoding":{"x":{"field":"x","type":"quantitative","scale":{"domain":[0,5000],"range":[111.8,439.8],"nice":false,"zero":false},"axis":{"orient":"bottom","offset":-71.3,"values":[500,1500,2500,3500,4500],"labels":false,"domain":false,"tickSize":3,"title":null}},
"y":{"field":"y","type":"quantitative","scale":{"domain":[-5000,0],"range":[508.3,737.7],"nice":false,"zero":false},"axis":{"orient":"left","offset":-111.8,"values":[-500,-1500,-2500,-3500,-4500],"labels":false,"domain":false,"tickSize":3,"title":null}}}},
{"data":{"name":"nci"},
"encoding":{"x":{"field":"x","type":"quantitative","scale":{"domain":[0,500],"range":[311,546],"nice":false,"zero":false},"axis":{"orient":"bottom","offset":-214.7,"values":[0,100,200,300,400,500],"labelExpr":"''+datum.value","title":null,"labelFontSize":14,"tickSize":4,"labelPadding":2,"labelColor":"#222222"}},
"y":{"field":"y","type":"quantitative","scale":{"domain":[-500,0],"range":[405.7,594.3],"nice":false,"zero":false},"axis":{"orient":"left","offset":-311,"values":[0,-100,-200,-300,-400,-500],"labelExpr":"''+datum.value","title":null,"labelFontSize":14,"tickSize":4,"labelPadding":2,"labelColor":"#222222"}}},
"layer":[
{"mark":{"type":"line","interpolate":"monotone","strokeWidth":1,"opacity":0.85},"encoding":{"stroke":{"field":"s","type":"nominal","scale":{"domain":["1h","20h","40h","60h","80h","100h"],"range":["#7a7a7a","#ff5a5a","#3cc03c","#5a5aff","#ff45ff","#ff9a50"]},"legend":null}}},
{"transform":[{"filter":"!datum.k && !datum.n"}],"mark":{"type":"point","filled":false,"size":30,"opacity":0.6,"strokeWidth":1},"encoding":{
"color":{"field":"s","type":"nominal","scale":{"domain":["1h","20h","40h","60h","80h","100h","FITS"],"range":["#7a7a7a","#ff5a5a","#3cc03c","#5a5aff","#ff45ff","#ff9a50","#505050"]},"legend":null},
"shape":{"field":"s","type":"nominal","scale":{"domain":["1h","20h","40h","60h","80h","100h","FITS"],"range":["triangle-left","circle","triangle-up","diamond","M 1 -1 L -1 -1 L -1 1 L 1 1","square","M -8.5 0 L 8.5 0"]},"legend":null}}},
{"transform":[{"filter":"datum.k"}],"mark":{"type":"point","filled":true,"size":30,"opacity":1},"encoding":{"fill":{"field":"s","type":"nominal","scale":{"domain":["1h","20h","40h","60h","80h","100h"],"range":["#000000","#ff0000","#00b000","#0000ff","#ff00ff","#ff7000"]},"legend":null},"shape":{"field":"s","type":"nominal","scale":{"domain":["1h","20h","40h","60h","80h","100h","FITS"],"range":["triangle-left","circle","triangle-up","diamond","M 1 -1 L -1 -1 L -1 1 L 1 1","square","M -8.5 0 L 8.5 0"]},"legend":null}}},
{"data":{"name":"arCi"},"mark":{"type":"rule","color":"#333333","strokeWidth":1},"encoding":{"x2":{"field":"x2"},"y2":{"field":"y2"}}},
{"data":{"name":"arCi"},"transform":[{"filter":"datum.id==1"}],"mark":{"type":"point","shape":"triangle-right","filled":true,"color":"black","size":20,"angle":61,"opacity":1},"encoding":{}},
{"data":{"name":"arCi"},"transform":[{"filter":"datum.id==2"}],"mark":{"type":"point","shape":"triangle-right","filled":true,"color":"black","size":20,"angle":331,"opacity":1},"encoding":{}},
{"data":{"name":"arCi"},"transform":[{"filter":"datum.id==3"}],"mark":{"type":"point","shape":"triangle-right","filled":true,"color":"black","size":20,"angle":173,"opacity":1},"encoding":{}},
{"data":{"name":"tCi"},"mark":{"type":"text","fontSize":13,"align":"center","baseline":"middle","color":"black"},"encoding":{"text":{"field":"t"}}}
]},
{"data":{"values":[{"x":0,"y":0}]},"mark":{"type":"point","opacity":0},
"encoding":{"x":{"field":"x","type":"quantitative","scale":{"domain":[0,500],"range":[311,546],"nice":false,"zero":false},"axis":{"orient":"bottom","offset":-214.7,"values":[50,150,250,350,450],"labels":false,"domain":false,"tickSize":2,"title":null}},
"y":{"field":"y","type":"quantitative","scale":{"domain":[-500,0],"range":[405.7,594.3],"nice":false,"zero":false},"axis":{"orient":"left","offset":-311,"values":[-50,-150,-250,-350,-450],"labels":false,"domain":false,"tickSize":2,"title":null}}}},
{"data":{"name":"pd"},
"encoding":{"x":{"field":"f","type":"quantitative","scale":{"type":"log","domain":[0.01,20000],"range":[715.5,1139],"nice":false,"zero":false},"axis":{"orient":"bottom","offset":-72.3,"values":[0.01,0.1,1,10,100,1000,10000],"labelExpr":"''+datum.value","title":"Frequency (Hz)","titlePadding":14,"labelPadding":5,"tickSize":6}},
"y":{"field":"p","type":"quantitative","scale":{"domain":[-70,0],"range":[440.7,736.7],"nice":false,"zero":false},"axis":{"orient":"left","offset":-715.5,"values":[0,-10,-20,-30,-40,-50,-60,-70],"labelExpr":"''+datum.value","title":"Phase angle (°)","titlePadding":5,"labelPadding":3}}},
"layer":[
{"transform":[{"fold":["1h","20h","40h","60h","80h","100h"],"as":["s","p"]}],"mark":{"type":"line","interpolate":"monotone","strokeWidth":1,"opacity":0.85},"encoding":{"stroke":{"field":"s","type":"nominal","scale":{"domain":["1h","20h","40h","60h","80h","100h"],"range":["#7a7a7a","#ff5a5a","#3cc03c","#5a5aff","#ff45ff","#ff9a50"]},"legend":null}}},
{"transform":[{"fold":["1h","20h","40h","60h","80h","100h"],"as":["s","p"]}],"mark":{"type":"point","filled":false,"size":40,"opacity":0.6,"strokeWidth":1},"encoding":{
"color":{"field":"s","type":"nominal","scale":{"domain":["1h","20h","40h","60h","80h","100h","FITS"],"range":["#7a7a7a","#ff5a5a","#3cc03c","#5a5aff","#ff45ff","#ff9a50","#ffb48c"]},"legend":{"orient":"none","legendX":1004,"legendY":437,"title":null,"columns":1,"padding":6,"symbolSize":20,"symbolOffset":11,"labelOffset":16,"labelFont":"Liberation Sans","labelFontSize":18,"labelColor":"black","strokeColor":"#c8c8c8","fillColor":"white","rowPadding":3.6,"symbolStrokeWidth":1,"labelExpr":"datum.label == 'FITS' ? 'FITS' : 'Alloy#2-' + datum.label"}},
"shape":{"field":"s","type":"nominal","scale":{"domain":["1h","20h","40h","60h","80h","100h","FITS"],"range":["triangle-left","circle","triangle-up","diamond","M 1 -1 L -1 -1 L -1 1 L 1 1","square","M -8.5 0 L 8.5 0"]},"legend":{"orient":"none","legendX":1004,"legendY":437,"title":null,"columns":1,"padding":6,"symbolSize":20,"symbolOffset":11,"labelOffset":16,"labelFont":"Liberation Sans","labelFontSize":18,"labelColor":"black","strokeColor":"#c8c8c8","fillColor":"white","rowPadding":3.6,"symbolStrokeWidth":1,"labelExpr":"datum.label == 'FITS' ? 'FITS' : 'Alloy#2-' + datum.label"}}}},
{"data":{"values":[{"f":0.00117,"p":-70.6,"t":"d"}]},"mark":{"type":"text","fontSize":50,"align":"center","baseline":"alphabetic","color":"#ff0000"},"encoding":{"text":{"field":"t"}}}
]},
{"data":{"values":[{"x":1,"y":0}]},"mark":{"type":"point","opacity":0},
"encoding":{"x":{"field":"x","type":"quantitative","scale":{"type":"log","domain":[0.01,20000],"range":[715.5,1139],"nice":false,"zero":false},"axis":{"orient":"bottom","offset":-72.3,"values":[0.02,0.03,0.04,0.05,0.06,0.07,0.08,0.09,0.2,0.3,0.4,0.5,0.6,0.7,0.8,0.9,2,3,4,5,6,7,8,9,20,30,40,50,60,70,80,90,200,300,400,500,600,700,800,900,2000,3000,4000,5000,6000,7000,8000,9000,20000],"labels":false,"domain":false,"tickSize":3,"title":null}},
"y":{"field":"y","type":"quantitative","scale":{"domain":[-70,0],"range":[440.7,736.7],"nice":false,"zero":false},"axis":{"orient":"left","offset":-715.5,"values":[-5,-15,-25,-35,-45,-55,-65],"labels":false,"domain":false,"tickSize":3,"title":null}}}}
],
"resolve":{"scale":{"x":"independent","y":"independent","color":"independent","shape":"independent"},"axis":{"x":"independent","y":"independent"},"legend":{"color":"independent","shape":"independent"}}
}
